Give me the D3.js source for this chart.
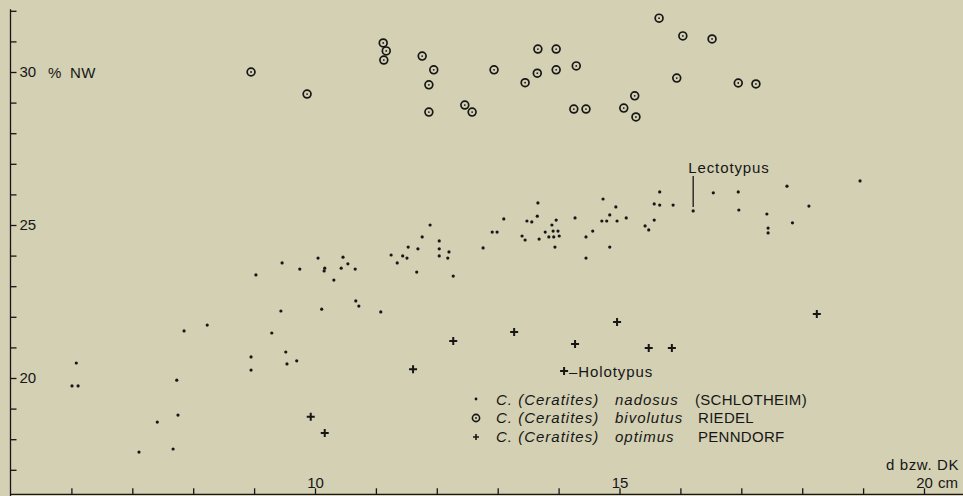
<!DOCTYPE html>
<html>
<head>
<meta charset="utf-8">
<script src="https://cdn.jsdelivr.net/npm/d3@7"></script>
<style>
  body { margin: 0; background: #d3d0b3; }
  svg { display: block; }
  text { font-family: "Liberation Sans", Arial, sans-serif; fill: #161616; }
</style>
</head>
<body>
<div class="plot"></div>
<script>
// C. (Ceratites) nadosus : d (cm) and % NW
var nadosusD = [6.01, 6.11, 6.08, 7.11, 7.41, 7.67, 7.75, 7.73, 7.85, 8.23, 8.95, 8.95, 9.03, 9.29, 9.46, 9.44,
  9.52, 9.54, 9.70, 9.75, 10.05, 10.16, 10.15, 10.11, 10.31, 10.43, 10.46, 10.54, 10.66, 10.67, 10.72, 11.08,
  11.25, 11.35, 11.44, 11.51, 11.53, 11.67, 11.69, 11.76, 11.89, 12.04, 12.04, 12.04, 12.18, 12.20, 12.27, 12.76,
  12.91, 12.99, 13.10, 13.40, 13.45, 13.48, 13.56, 13.65, 13.66, 13.68, 13.78, 13.84, 13.92, 14.01, 13.91, 13.99,
  13.89, 13.96, 13.94, 14.27, 14.45, 14.56, 14.45, 14.73, 14.94, 14.84, 14.71, 14.79, 14.96, 15.11, 14.84, 15.66,
  15.57, 15.66, 15.88, 15.57, 15.42, 15.48, 16.21, 16.54, 16.95, 16.96, 17.42, 17.44, 17.44, 17.75, 17.84, 18.11, 18.95];
var nadosusNW = [19.74, 19.74, 20.49, 17.58, 18.56, 17.68, 18.79, 19.93, 21.54, 21.73, 20.69, 20.26, 23.37, 21.47, 23.76, 22.19,
  20.85, 20.46, 20.56, 23.56, 23.92, 23.59, 23.50, 22.25, 23.20, 23.59, 23.95, 23.73, 23.56, 22.52, 22.35, 22.16,
  24.02, 23.76, 23.99, 23.92, 24.28, 23.46, 24.22, 24.61, 25.00, 24.48, 24.22, 23.99, 23.92, 24.12, 23.33, 24.25,
  24.77, 24.77, 25.20, 24.64, 24.51, 25.13, 25.10, 25.29, 25.72, 24.54, 24.77, 24.61, 24.61, 24.64, 24.80, 24.80,
  25.00, 25.16, 24.28, 25.23, 24.61, 24.80, 23.92, 25.85, 25.59, 25.33, 25.13, 25.13, 25.13, 25.23, 24.28, 26.08,
  25.69, 25.65, 25.65, 25.16, 24.97, 24.84, 25.46, 26.05, 26.08, 25.49, 25.36, 24.90, 24.74, 26.27, 25.07, 25.62, 26.44];
var lectotypusIndex = 86;

// C. (Ceratites) bivolutus
var bivolutusD = [8.95, 9.87, 11.12, 11.17, 11.13, 11.76, 11.95, 11.87, 11.87, 12.46, 12.58, 12.94, 13.45, 13.66, 13.96,
  13.65, 13.96, 14.29, 14.25, 14.45, 15.25, 15.07, 15.27, 15.65, 16.04, 16.52, 15.94, 16.95, 17.24];
var bivolutusNW = [30.00, 29.28, 30.95, 30.69, 30.39, 30.52, 30.07, 29.58, 28.69, 28.92, 28.69, 30.07, 29.65, 30.75, 30.75,
  29.96, 30.07, 30.20, 28.79, 28.79, 29.22, 28.82, 28.53, 31.76, 31.18, 31.08, 29.80, 29.64, 29.61];

// C. (Ceratites) optimus
var optimusD = [9.93, 10.16, 11.61, 12.27, 13.27, 14.27, 14.96, 15.48, 15.86, 18.24, 14.09];
var optimusNW = [18.73, 18.20, 20.29, 21.21, 21.50, 21.11, 21.83, 20.98, 20.98, 22.09, 20.23];
var holotypusIndex = 10;

var xTicks = [6, 7, 8, 9, 10, 11, 12, 13, 14, 15, 16, 17, 18, 19, 20];
var yTicks = [17, 18, 19, 20, 21, 22, 23, 24, 25, 26, 27, 28, 29, 30, 31, 32];
var xLabels = { 10: "10", 15: "15", 20: "20" };
var yLabels = { 20: "20", 25: "25", 30: "30" };

var legendNames = [["nadosus", "(SCHLOTHEIM)"], ["bivolutus", "RIEDEL"], ["optimus", "PENNDORF"]];

var width = 963, height = 496;
var ink = "#161616";

var svg = d3.select(".plot")
  .append("svg")
  .attr("width", width)
  .attr("height", height);

svg.append("rect")
  .attr("width", width)
  .attr("height", height)
  .attr("fill", "#d3d0b3");

// scales
var xScale = d3.scaleLinear().domain([10, 20]).range([315, 924]);
var yScale = d3.scaleLinear().domain([20, 30]).range([378, 72]);
var yBottom = 16.2;

// y axis (ticks point inward, labels right of axis)
var yAxis = d3.axisRight(yScale)
  .tickValues(yTicks)
  .tickSize(6)
  .tickPadding(3)
  .tickFormat(function (d) { return yLabels[d] || ""; });

var gy = svg.append("g")
  .attr("transform", "translate(" + xScale(5) + ",0)")
  .call(yAxis);
gy.select(".domain").attr("d", "M0," + yScale(32.05) + "V" + height);

// x axis along the bottom, ticks upward
var xAxis = d3.axisTop(xScale)
  .tickValues(xTicks)
  .tickSize(6)
  .tickPadding(0)
  .tickFormat(function (d) { return xLabels[d] || ""; });

var gx = svg.append("g")
  .attr("transform", "translate(0," + yScale(yBottom) + ")")
  .call(xAxis);
gx.select(".domain").attr("d", "M" + xScale(5) + ",0H" + width);

svg.selectAll(".domain, .tick line")
  .attr("stroke", ink)
  .attr("stroke-width", 1.3);
svg.selectAll(".tick text")
  .attr("fill", ink)
  .style("font-size", "15px")
  .style("font-family", "'Liberation Sans', Arial, sans-serif");

// axis titles
svg.append("text")
  .attr("x", 48)
  .attr("y", yScale(30) + 6)
  .style("font-size", "15px")
  .style("letter-spacing", "0.5px")
  .text("%\u2009 NW");

svg.append("text")
  .attr("x", xScale(20) + 14)
  .attr("y", yScale(yBottom) - 6)
  .style("font-size", "15px")
  .text("cm");

svg.append("text")
  .attr("x", 959)
  .attr("y", 470)
  .attr("text-anchor", "end")
  .style("font-size", "15px")
  .style("letter-spacing", "0.6px")
  .text("d bzw. DK");

// nadosus: small dots
svg.append("g")
  .selectAll("circle")
  .data(nadosusD)
  .enter()
  .append("circle")
  .attr("cx", function (d) { return xScale(d); })
  .attr("cy", function (d, i) { return yScale(nadosusNW[i]); })
  .attr("r", 1.6)
  .attr("fill", ink);

// bivolutus: ring with centre dot
var biv = svg.append("g")
  .selectAll("g")
  .data(bivolutusD)
  .enter()
  .append("g")
  .attr("transform", function (d, i) {
    return "translate(" + xScale(d) + "," + yScale(bivolutusNW[i]) + ")";
  });
biv.append("circle")
  .attr("r", 3.9)
  .attr("fill", "none")
  .attr("stroke", ink)
  .attr("stroke-width", 1.7);
biv.append("circle")
  .attr("r", 0.9)
  .attr("fill", ink);

// optimus: crosses
svg.append("g")
  .selectAll("path")
  .data(optimusD)
  .enter()
  .append("path")
  .attr("transform", function (d, i) {
    return "translate(" + xScale(d) + "," + yScale(optimusNW[i]) + ")";
  })
  .attr("d", "M-4,0H4M0,-4V4")
  .attr("stroke", ink)
  .attr("stroke-width", 2);

// Lectotypus marker
var lx = xScale(nadosusD[lectotypusIndex]);
var ly = yScale(nadosusNW[lectotypusIndex]);
svg.append("line")
  .attr("x1", lx).attr("x2", lx)
  .attr("y1", ly - 4).attr("y2", ly - 35)
  .attr("stroke", ink)
  .attr("stroke-width", 1.3);
svg.append("text")
  .attr("x", lx - 5)
  .attr("y", ly - 38)
  .style("font-size", "15px")
  .style("letter-spacing", "0.9px")
  .text("Lectotypus");

// Holotypus label
var hx = xScale(optimusD[holotypusIndex]);
var hy = yScale(optimusNW[holotypusIndex]);
svg.append("text")
  .attr("x", hx + 5)
  .attr("y", hy + 6)
  .style("font-size", "15px")
  .style("letter-spacing", "0.9px")
  .text("\u2013Holotypus");

// legend
var legendY = [405, 423, 442];
legendNames.forEach(function (names, i) {
  var y = legendY[i];
  var sx = 476, sy = y - 5;
  if (i == 0) {
    svg.append("circle").attr("cx", sx).attr("cy", sy - 1).attr("r", 1.4).attr("fill", ink);
  } else if (i == 1) {
    svg.append("circle").attr("cx", sx).attr("cy", sy).attr("r", 3.6)
      .attr("fill", "none").attr("stroke", ink).attr("stroke-width", 1.6);
    svg.append("circle").attr("cx", sx).attr("cy", sy).attr("r", 0.9).attr("fill", ink);
  } else {
    svg.append("path").attr("transform", "translate(" + sx + "," + sy + ")")
      .attr("d", "M-3,0H3M0,-3V3").attr("stroke", ink).attr("stroke-width", 1.6);
  }
  svg.append("text")
    .attr("x", 496).attr("y", y)
    .style("font-size", "15px")
    .style("font-style", "italic")
    .style("letter-spacing", "1px")
    .text("C. (Ceratites)");
  svg.append("text")
    .attr("x", 615).attr("y", y)
    .style("font-size", "15px")
    .style("font-style", "italic")
    .style("letter-spacing", "1px")
    .text(names[0]);
  svg.append("text")
    .attr("x", i == 0 ? 695 : 698).attr("y", y)
    .style("font-size", "15px")
    .style("letter-spacing", "0.3px")
    .text(names[1]);
});
</script>
</body>
</html>
